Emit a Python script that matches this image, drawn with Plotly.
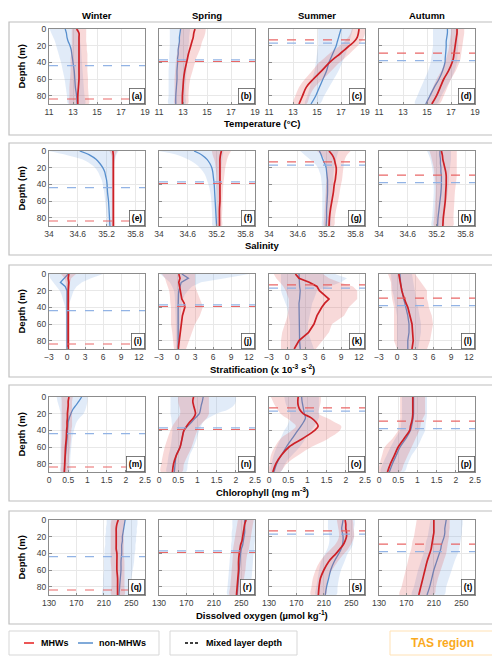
import plotly.graph_objects as go

W, H = 500, 661
OFF = 8  # the page body adds an 8 px margin around the figure

seasons = ["Winter", "Spring", "Summer", "Autumn"]
depth = [0, 5, 10, 15, 20, 25, 30, 35, 40, 50, 60, 70, 80, 90]

# mixed layer depth (m) per season
mld_mhw = [84, 39, 13, 29]
mld_non = [44, 37, 17, 38]

# ---------------- temperature (°C) ----------------
temp_mhw = [
    [13.3, 13.5, 13.5, 13.5, 13.5, 13.5, 13.5, 13.5, 13.5, 13.5, 13.5, 13.45, 13.4, 13.4],
    [14.0, 13.9, 13.85, 13.75, 13.65, 13.55, 13.45, 13.38, 13.3, 13.15, 13.05, 13.0, 12.95, 12.95],
    [18.5, 18.45, 18.35, 18.1, 17.7, 17.3, 16.9, 16.45, 16.05, 15.4, 14.7, 14.1, 13.8, 13.5],
    [17.5, 17.5, 17.45, 17.4, 17.35, 17.3, 17.25, 17.2, 17.1, 16.8, 16.4, 16.1, 15.8, 15.4],
]
temp_mhw_lo = [
    [12.9, 12.9, 12.9, 12.9, 12.9, 12.85, 12.85, 12.8, 12.8, 12.8, 12.75, 12.7, 12.7, 12.7],
    [12.8, 12.8, 12.75, 12.7, 12.6, 12.55, 12.5, 12.45, 12.4, 12.35, 12.3, 12.3, 12.3, 12.3],
    [17.9, 17.8, 17.6, 17.3, 16.9, 16.45, 16.0, 15.6, 15.2, 14.6, 14.0, 13.5, 13.2, 13.0],
    [17.0, 17.0, 16.95, 16.9, 16.85, 16.8, 16.7, 16.6, 16.5, 16.2, 15.8, 15.5, 15.2, 14.9],
]
temp_mhw_hi = [
    [14.1, 14.1, 14.1, 14.1, 14.15, 14.15, 14.2, 14.2, 14.2, 14.2, 14.25, 14.25, 14.3, 14.3],
    [14.9, 14.85, 14.75, 14.6, 14.5, 14.4, 14.25, 14.1, 14.0, 13.8, 13.6, 13.5, 13.45, 13.4],
    [19.0, 19.0, 18.9, 18.7, 18.4, 18.05, 17.7, 17.3, 16.9, 16.2, 15.5, 14.8, 14.4, 14.1],
    [18.1, 18.1, 18.05, 18.0, 17.95, 17.9, 17.85, 17.8, 17.7, 17.4, 17.0, 16.7, 16.4, 16.0],
]
temp_non = [
    [12.35, 12.45, 12.5, 12.6, 12.75, 12.85, 12.9, 12.95, 13.0, 13.1, 13.15, 13.2, 13.3, 13.35],
    [12.8, 12.75, 12.7, 12.7, 12.65, 12.6, 12.6, 12.55, 12.55, 12.5, 12.5, 12.45, 12.4, 12.4],
    [17.0, 16.9, 16.8, 16.7, 16.6, 16.45, 16.3, 16.15, 16.0, 15.8, 15.5, 15.2, 14.9, 14.5],
    [16.7, 16.7, 16.65, 16.6, 16.6, 16.58, 16.55, 16.52, 16.5, 16.3, 16.0, 15.6, 15.25, 14.9],
]
temp_non_lo = [
    [11.05, 11.2, 11.35, 11.5, 11.6, 11.7, 11.8, 11.9, 12.0, 12.15, 12.3, 12.4, 12.5, 12.6],
    [11.9, 11.9, 11.9, 11.9, 11.9, 11.88, 11.85, 11.85, 11.85, 11.8, 11.8, 11.8, 11.8, 11.8],
    [15.1, 15.1, 15.1, 15.1, 15.1, 15.05, 15.0, 14.95, 14.9, 14.8, 14.6, 14.4, 14.2, 14.0],
    [15.5, 15.5, 15.5, 15.5, 15.5, 15.45, 15.4, 15.35, 15.3, 15.1, 14.8, 14.5, 14.2, 14.0],
]
temp_non_hi = [
    [13.5, 13.55, 13.6, 13.6, 13.65, 13.68, 13.7, 13.72, 13.75, 13.8, 13.85, 13.9, 13.95, 14.0],
    [13.6, 13.55, 13.5, 13.5, 13.45, 13.42, 13.4, 13.38, 13.35, 13.3, 13.25, 13.2, 13.2, 13.2],
    [18.0, 17.9, 17.8, 17.7, 17.6, 17.5, 17.4, 17.25, 17.1, 16.8, 16.4, 16.0, 15.6, 15.2],
    [17.6, 17.6, 17.6, 17.6, 17.6, 17.58, 17.55, 17.52, 17.5, 17.3, 17.0, 16.6, 16.2, 15.8],
]

# ---------------- salinity ----------------
sal_mhw = [
    [35.33, 35.34, 35.34, 35.34, 35.34, 35.34, 35.34, 35.34, 35.34, 35.34, 35.34, 35.34, 35.34, 35.34],
    [35.3, 35.28, 35.27, 35.27, 35.27, 35.27, 35.27, 35.27, 35.27, 35.27, 35.27, 35.26, 35.26, 35.26],
    [35.25, 35.32, 35.36, 35.38, 35.4, 35.4, 35.39, 35.38, 35.36, 35.34, 35.31, 35.28, 35.26, 35.25],
    [35.3, 35.32, 35.33, 35.35, 35.37, 35.39, 35.4, 35.4, 35.4, 35.39, 35.38, 35.36, 35.34, 35.33],
]
sal_mhw_lo = [
    [35.26, 35.3, 35.31, 35.31, 35.31, 35.31, 35.31, 35.31, 35.31, 35.31, 35.31, 35.31, 35.31, 35.31],
    [35.1, 35.12, 35.15, 35.17, 35.18, 35.19, 35.2, 35.2, 35.2, 35.21, 35.21, 35.21, 35.21, 35.21],
    [35.0, 35.1, 35.15, 35.18, 35.2, 35.2, 35.2, 35.2, 35.19, 35.18, 35.17, 35.16, 35.15, 35.15],
    [35.05, 35.08, 35.1, 35.12, 35.14, 35.15, 35.16, 35.17, 35.18, 35.18, 35.17, 35.16, 35.15, 35.15],
]
sal_mhw_hi = [
    [35.42, 35.38, 35.37, 35.37, 35.37, 35.37, 35.37, 35.37, 35.37, 35.37, 35.37, 35.37, 35.37, 35.37],
    [35.5, 35.45, 35.42, 35.4, 35.38, 35.37, 35.36, 35.35, 35.34, 35.33, 35.32, 35.32, 35.31, 35.31],
    [35.7, 35.62, 35.58, 35.56, 35.55, 35.54, 35.53, 35.52, 35.5, 35.47, 35.44, 35.4, 35.37, 35.35],
    [35.62, 35.62, 35.62, 35.62, 35.62, 35.62, 35.62, 35.61, 35.6, 35.58, 35.57, 35.56, 35.55, 35.54],
]
sal_non = [
    [34.64, 34.85, 34.98, 35.06, 35.12, 35.16, 35.18, 35.2, 35.21, 35.22, 35.24, 35.25, 35.26, 35.27],
    [34.73, 34.9, 35.0, 35.06, 35.1, 35.12, 35.13, 35.14, 35.15, 35.16, 35.17, 35.18, 35.19, 35.2],
    [35.05, 35.09, 35.12, 35.16, 35.19, 35.2, 35.21, 35.22, 35.22, 35.22, 35.21, 35.2, 35.2, 35.19],
    [35.27, 35.27, 35.28, 35.28, 35.29, 35.29, 35.3, 35.3, 35.3, 35.29, 35.27, 35.25, 35.23, 35.22],
]
sal_non_lo = [
    [34.0, 34.38, 34.69, 34.85, 34.96, 35.02, 35.06, 35.1, 35.12, 35.15, 35.17, 35.19, 35.2, 35.21],
    [34.0, 34.4, 34.6, 34.75, 34.85, 34.92, 34.97, 35.0, 35.03, 35.07, 35.09, 35.1, 35.11, 35.12],
    [34.65, 34.75, 34.85, 34.95, 35.02, 35.05, 35.08, 35.09, 35.1, 35.11, 35.11, 35.11, 35.11, 35.11],
    [35.0, 35.04, 35.07, 35.09, 35.11, 35.12, 35.13, 35.14, 35.14, 35.14, 35.13, 35.12, 35.11, 35.1],
]
sal_non_hi = [
    [35.45, 35.4, 35.38, 35.36, 35.35, 35.35, 35.34, 35.34, 35.33, 35.33, 35.33, 35.33, 35.33, 35.33],
    [35.35, 35.33, 35.32, 35.31, 35.3, 35.3, 35.29, 35.29, 35.28, 35.28, 35.28, 35.28, 35.28, 35.28],
    [35.45, 35.42, 35.4, 35.38, 35.36, 35.35, 35.34, 35.34, 35.33, 35.32, 35.31, 35.3, 35.29, 35.28],
    [35.5, 35.5, 35.5, 35.49, 35.48, 35.47, 35.46, 35.46, 35.45, 35.43, 35.4, 35.38, 35.36, 35.35],
]

# ---------------- stratification (x 10^-3 s^-2) ----------------
strat_mhw = [
    [0.3, 0.2, 0.3, 0.2, 0.2, 0.2, 0.2, 0.2, 0.2, 0.2, 0.2, 0.2, 0.2, 0.2],
    [0.3, 0.5, 0.3, 0.4, 0.5, 0.6, 0.8, 1.2, 1.3, 0.9, 0.7, 0.5, 0.3, 0.2],
    [1.4, 2.0, 3.7, 5.0, 5.4, 6.2, 7.0, 6.3, 5.8, 5.0, 4.5, 3.6, 2.0, 1.2],
    [0.3, 0.4, 0.5, 0.6, 0.8, 1.0, 1.2, 1.5, 1.8, 2.2, 2.5, 2.6, 2.7, 2.5],
]
strat_mhw_lo = [
    [-1.0, -0.4, -0.2, -0.1, -0.1, -0.1, -0.1, -0.1, -0.1, -0.1, -0.1, -0.1, -0.1, -0.1],
    [-2.5, -2.0, -1.8, -1.5, -1.3, -1.2, -1.2, -1.1, -1.0, -1.0, -1.0, -0.8, -0.6, -0.5],
    [-2.2, -1.8, -1.2, -0.6, -0.2, 0.1, 0.3, 0.3, 0.3, 0.1, -0.3, -0.8, -1.0, -1.0],
    [-1.5, -1.2, -1.0, -1.0, -1.0, -0.9, -0.8, -0.6, -0.5, -0.5, -0.5, -0.5, -0.5, 0.0],
]
strat_mhw_hi = [
    [1.5, 0.7, 0.5, 0.5, 0.5, 0.5, 0.5, 0.5, 0.5, 0.5, 0.5, 0.5, 0.5, 0.5],
    [3.0, 3.0, 3.0, 3.0, 3.2, 3.5, 3.8, 4.1, 4.3, 3.8, 3.0, 2.5, 2.0, 1.5],
    [6.0, 7.0, 8.7, 11.0, 11.7, 11.7, 11.7, 11.0, 10.3, 9.5, 7.5, 7.0, 5.9, 4.8],
    [3.0, 3.5, 4.0, 4.5, 5.0, 5.0, 5.0, 5.2, 5.3, 5.8, 6.0, 5.8, 5.5, 5.0],
]
strat_non = [
    [0.2, -0.5, -1.1, -0.3, 0.0, 0.0, 0.0, 0.0, 0.0, 0.0, 0.0, 0.0, 0.0, 0.0],
    [0.8, 1.9, 0.7, 0.5, 0.3, 0.25, 0.2, 0.2, 0.2, 0.2, 0.2, 0.2, 0.2, 0.2],
    [2.0, 2.0, 2.0, 2.1, 2.2, 2.2, 2.1, 2.0, 2.0, 2.0, 2.0, 2.0, 2.1, 2.2],
    [0.5, 0.5, 0.6, 0.7, 0.8, 0.9, 1.1, 1.3, 1.5, 1.8, 2.0, 2.0, 1.8, 1.8],
]
strat_non_lo = [
    [-3.0, -2.8, -2.3, -1.7, -1.2, -0.9, -0.7, -0.5, -0.3, -0.2, -0.2, -0.2, -0.2, -0.2],
    [-2.8, -2.0, -1.2, -0.8, -0.5, -0.4, -0.3, -0.3, -0.3, -0.2, -0.2, -0.2, -0.2, -0.2],
    [-1.0, -1.0, -1.0, -1.0, -1.0, -0.8, -0.5, -0.2, 0.0, 0.3, 0.5, 0.5, 0.5, 0.5],
    [-1.0, -1.0, -0.9, -0.8, -0.8, -0.6, -0.5, -0.3, -0.2, 0.0, 0.0, 0.0, 0.0, 0.0],
]
strat_non_hi = [
    [6.0, 4.0, 2.5, 1.6, 1.1, 0.8, 0.6, 0.4, 0.3, 0.2, 0.2, 0.2, 0.2, 0.2],
    [12.0, 8.0, 4.0, 2.5, 1.8, 1.3, 1.0, 0.8, 0.7, 0.6, 0.6, 0.6, 0.5, 0.5],
    [8.0, 10.0, 9.0, 7.0, 5.0, 4.8, 4.5, 4.2, 4.0, 3.8, 3.5, 3.5, 4.0, 4.5],
    [2.5, 2.6, 2.7, 2.8, 3.0, 3.1, 3.2, 3.3, 3.5, 3.8, 4.0, 4.0, 3.8, 3.5],
]

# ---------------- chlorophyll (mg m^-3) ----------------
chl_mhw = [
    [0.52, 0.5, 0.5, 0.49, 0.48, 0.48, 0.47, 0.47, 0.46, 0.45, 0.43, 0.42, 0.41, 0.4],
    [0.9, 0.88, 0.9, 0.93, 0.95, 0.9, 0.8, 0.72, 0.65, 0.6, 0.55, 0.45, 0.38, 0.35],
    [0.76, 0.75, 0.76, 0.8, 0.89, 1.1, 1.22, 1.28, 1.19, 0.87, 0.52, 0.32, 0.18, 0.1],
    [0.88, 0.88, 0.88, 0.88, 0.88, 0.87, 0.85, 0.82, 0.8, 0.65, 0.5, 0.4, 0.3, 0.22],
]
chl_mhw_lo = [
    [0.32, 0.33, 0.33, 0.33, 0.33, 0.33, 0.33, 0.33, 0.33, 0.33, 0.32, 0.32, 0.32, 0.32],
    [0.5, 0.5, 0.52, 0.55, 0.55, 0.5, 0.42, 0.35, 0.3, 0.22, 0.15, 0.1, 0.06, 0.05],
    [0.05, 0.1, 0.15, 0.22, 0.3, 0.45, 0.6, 0.7, 0.6, 0.3, 0.15, 0.05, 0.02, 0.0],
    [0.55, 0.55, 0.55, 0.55, 0.55, 0.55, 0.53, 0.52, 0.5, 0.35, 0.15, 0.08, 0.02, 0.0],
]
chl_mhw_hi = [
    [0.62, 0.6, 0.6, 0.6, 0.6, 0.6, 0.6, 0.6, 0.58, 0.57, 0.55, 0.53, 0.51, 0.5],
    [1.3, 1.3, 1.3, 1.3, 1.3, 1.25, 1.15, 1.05, 1.0, 0.92, 0.85, 0.75, 0.65, 0.6],
    [1.35, 1.35, 1.33, 1.3, 1.3, 1.5, 1.7, 1.88, 1.85, 1.54, 1.1, 0.76, 0.46, 0.28],
    [1.2, 1.2, 1.2, 1.2, 1.2, 1.15, 1.1, 1.08, 1.05, 0.95, 0.85, 0.75, 0.65, 0.55],
]
chl_non = [
    [0.85, 0.78, 0.7, 0.62, 0.57, 0.53, 0.5, 0.49, 0.48, 0.47, 0.45, 0.43, 0.41, 0.4],
    [1.15, 1.13, 1.1, 1.08, 1.05, 0.95, 0.85, 0.75, 0.65, 0.6, 0.55, 0.45, 0.42, 0.4],
    [0.85, 0.86, 0.88, 0.9, 0.92, 0.95, 0.9, 0.83, 0.75, 0.6, 0.45, 0.32, 0.2, 0.13],
    [0.9, 0.9, 0.9, 0.9, 0.9, 0.89, 0.87, 0.85, 0.82, 0.7, 0.55, 0.45, 0.35, 0.27],
]
chl_non_lo = [
    [0.2, 0.22, 0.25, 0.28, 0.3, 0.3, 0.3, 0.3, 0.3, 0.3, 0.3, 0.3, 0.3, 0.3],
    [0.3, 0.3, 0.3, 0.3, 0.3, 0.32, 0.33, 0.34, 0.35, 0.33, 0.3, 0.25, 0.22, 0.2],
    [0.4, 0.42, 0.45, 0.5, 0.55, 0.55, 0.52, 0.47, 0.4, 0.3, 0.2, 0.12, 0.07, 0.05],
    [0.6, 0.6, 0.6, 0.6, 0.6, 0.6, 0.58, 0.57, 0.55, 0.42, 0.3, 0.2, 0.1, 0.05],
]
chl_non_hi = [
    [1.0, 1.0, 0.98, 0.95, 0.9, 0.8, 0.72, 0.68, 0.65, 0.6, 0.58, 0.56, 0.55, 0.55],
    [2.0, 2.0, 1.95, 1.8, 1.5, 1.3, 1.15, 1.1, 1.05, 0.98, 0.9, 0.8, 0.75, 0.7],
    [1.3, 1.3, 1.3, 1.3, 1.3, 1.3, 1.25, 1.18, 1.1, 0.95, 0.8, 0.6, 0.42, 0.3],
    [1.25, 1.25, 1.25, 1.25, 1.25, 1.24, 1.22, 1.21, 1.2, 1.1, 1.0, 0.85, 0.75, 0.65],
]

# ---------------- dissolved oxygen (umol kg^-1) ----------------
oxy_mhw = [
    [231, 229, 228, 228, 228, 228, 228, 228, 229, 229, 229, 230, 230, 230],
    [257, 255, 254, 253, 252, 251, 249, 248, 247, 246, 246, 245, 244, 243],
    [241, 242, 242, 243, 243, 241, 238, 233, 228, 217, 210, 205, 203, 202],
    [210, 210, 210, 210, 209, 208, 207, 206, 204, 200, 197, 194, 191, 188],
]
oxy_mhw_lo = [
    [221, 220, 220, 220, 220, 220, 220, 220, 220, 220, 221, 221, 221, 221],
    [245, 244, 243, 242, 241, 240, 239, 238, 238, 237, 236, 235, 234, 233],
    [229, 230, 231, 232, 232, 230, 226, 220, 214, 204, 198, 194, 192, 191],
    [185, 184, 183, 182, 181, 179, 178, 177, 175, 172, 169, 166, 163, 160],
]
oxy_mhw_hi = [
    [241, 240, 239, 239, 239, 239, 239, 239, 239, 240, 240, 240, 240, 240],
    [268, 267, 266, 265, 264, 263, 262, 261, 259, 257, 256, 254, 253, 252],
    [252, 253, 253, 254, 254, 252, 249, 245, 240, 230, 222, 216, 214, 213],
    [233, 233, 233, 232, 232, 231, 230, 229, 228, 224, 220, 216, 213, 210],
]
oxy_non = [
    [241, 240, 239, 238, 237, 237, 236, 236, 236, 235, 235, 234, 233, 232],
    [255, 255, 255, 255, 254, 253, 252, 250, 249, 248, 247, 246, 245, 244],
    [238, 237, 236, 237, 238, 238, 237, 235, 232, 225, 220, 217, 214, 212],
    [228, 227, 226, 226, 225, 223, 221, 220, 218, 214, 210, 207, 204, 200],
]
oxy_non_lo = [
    [214, 214, 213, 213, 212, 212, 212, 211, 211, 210, 210, 209, 209, 208],
    [237, 237, 237, 236, 236, 236, 235, 235, 234, 233, 232, 231, 230, 230],
    [216, 216, 216, 217, 218, 218, 217, 215, 212, 206, 203, 201, 199, 198],
    [205, 204, 203, 202, 201, 199, 198, 197, 195, 191, 187, 184, 181, 178],
]
oxy_non_hi = [
    [259, 259, 258, 258, 257, 257, 256, 256, 255, 254, 252, 250, 248, 247],
    [270, 270, 270, 270, 270, 270, 269, 269, 268, 267, 266, 265, 264, 263],
    [255, 255, 254, 254, 254, 253, 252, 249, 245, 240, 235, 232, 230, 228],
    [252, 252, 251, 251, 250, 249, 248, 247, 245, 240, 236, 232, 228, 225],
]

variables = [
    ("Temperature (°C)", [11, 19], [11, 13, 15, 17, 19], True,
     temp_mhw, temp_mhw_lo, temp_mhw_hi, temp_non, temp_non_lo, temp_non_hi),
    ("Salinity", [34, 36], [34, 34.6, 35.2, 35.8], True,
     sal_mhw, sal_mhw_lo, sal_mhw_hi, sal_non, sal_non_lo, sal_non_hi),
    ("Stratification (x 10<sup>-3</sup> s<sup>-2</sup>)", [-3, 13], [-3, 0, 3, 6, 9, 12], False,
     strat_mhw, strat_mhw_lo, strat_mhw_hi, strat_non, strat_non_lo, strat_non_hi),
    ("Chlorophyll (mg m<sup>-3</sup>)", [0, 2.5], [0, 0.5, 1, 1.5, 2, 2.5], True,
     chl_mhw, chl_mhw_lo, chl_mhw_hi, chl_non, chl_non_lo, chl_non_hi),
    ("Dissolved oxygen (µmol kg<sup>-1</sup>)", [130, 270], [130, 170, 210, 250], True,
     oxy_mhw, oxy_mhw_lo, oxy_mhw_hi, oxy_non, oxy_non_lo, oxy_non_hi),
]

RED = "rgb(205,32,38)"
BLUE = "rgb(86,142,205)"
RED_FILL = "rgba(225,80,80,0.22)"
BLUE_FILL = "rgba(120,165,222,0.22)"
RED_DASH = "rgba(232,95,95,0.95)"
BLUE_DASH = "rgba(140,175,228,0.95)"
FONT = "Liberation Sans, Arial, sans-serif"

# screen pixel positions
col_left = [49, 159, 269, 379]
row_top = [29, 151, 274, 397, 520]
pw, ph = 96, 75
box_rows = [(22, 135), (143, 255), (265, 377), (385, 501), (511, 624)]


def fx(p):
    return (p - OFF) / W


def fy(p):
    return 1 - (p - OFF) / H


fig = go.Figure()
layout = {}
shapes = []
annotations = []
letters = "abcdefghijklmnopqrst"

for r, (title, xr, xt, smooth, m, mlo, mhi, n, nlo, nhi) in enumerate(variables):
    shape_kind = "spline" if smooth else "linear"
    for c in range(4):
        idx = r * 4 + c + 1
        sfx = "" if idx == 1 else str(idx)
        xa, ya = "x" + sfx, "y" + sfx
        # non-MHW band and line, then MHW band and line on top
        fig.add_trace(go.Scatter(x=nlo[c] + nhi[c][::-1], y=depth + depth[::-1], xaxis=xa, yaxis=ya,
                                 fill="toself", fillcolor=BLUE_FILL, line=dict(width=0, shape=shape_kind),
                                 mode="lines", hoverinfo="skip", showlegend=False))
        fig.add_trace(go.Scatter(x=n[c], y=depth, xaxis=xa, yaxis=ya, mode="lines",
                                 line=dict(color=BLUE, width=1.3, shape=shape_kind), showlegend=False))
        fig.add_trace(go.Scatter(x=mlo[c] + mhi[c][::-1], y=depth + depth[::-1], xaxis=xa, yaxis=ya,
                                 fill="toself", fillcolor=RED_FILL, line=dict(width=0, shape=shape_kind),
                                 mode="lines", hoverinfo="skip", showlegend=False))
        fig.add_trace(go.Scatter(x=m[c], y=depth, xaxis=xa, yaxis=ya, mode="lines",
                                 line=dict(color=RED, width=1.7, shape=shape_kind), showlegend=False))

        L, T = col_left[c], row_top[r]
        axis_common = dict(showgrid=True, gridcolor="rgb(232,232,232)", gridwidth=0.6,
                           showline=True, linecolor="rgb(140,140,140)", linewidth=1, mirror=True,
                           ticks="inside", ticklen=2.5, tickcolor="rgb(140,140,140)", automargin=False,
                           zeroline=False, tickfont=dict(size=8.5, color="rgb(60,60,60)", family=FONT))
        layout["xaxis" + sfx] = dict(domain=[fx(L), fx(L + pw)], anchor=ya, range=xr,
                                     tickvals=xt, **axis_common)
        layout["yaxis" + sfx] = dict(domain=[fy(T + ph), fy(T)], anchor=xa, range=[90, 0],
                                     tickvals=[0, 20, 40, 60, 80], showticklabels=(c == 0),
                                     **axis_common)

        # mixed layer depths
        for val, col in ((mld_non[c], BLUE_DASH), (mld_mhw[c], RED_DASH)):
            shapes.append(dict(type="line", xref=xa + " domain", yref=ya, x0=0, x1=1, y0=val, y1=val,
                               line=dict(color=col, width=1.1, dash="dash"), layer="above"))

        annotations.append(dict(text=f"<b>({letters[idx - 1]})</b>", xref=xa + " domain", yref=ya + " domain",
                                x=1, y=0, xanchor="right", yanchor="bottom", showarrow=False,
                                font=dict(size=8.5, color="black", family=FONT), bgcolor="white",
                                bordercolor="rgb(90,90,90)", borderwidth=0.8, borderpad=2))

    # row box, depth label and x title
    bt, bb = box_rows[r]
    shapes.append(dict(type="rect", xref="paper", yref="paper", x0=fx(9), x1=fx(495), y0=fy(bb), y1=fy(bt),
                       line=dict(color="rgb(190,190,190)", width=1.2)))
    annotations.append(dict(text="<b>Depth (m)</b>", xref="paper", yref="paper", x=fx(21), xanchor="center",
                            y=fy(row_top[r] + ph / 2), yanchor="middle", textangle=-90, showarrow=False,
                            font=dict(size=9.5, color="black", family=FONT)))
    annotations.append(dict(text=f"<b>{title}</b>", xref="paper", yref="paper", x=fx(262), xanchor="center",
                            y=fy(row_top[r] + ph + 20), showarrow=False, yanchor="middle",
                            font=dict(size=9.5, color="black", family=FONT)))

# season titles sit right at the top edge of the figure
for c, s in enumerate(seasons):
    annotations.append(dict(text=f"<b>{s}</b>", xref="paper", yref="paper", x=fx(col_left[c] + pw / 2),
                            xanchor="center", y=1, yanchor="top", showarrow=False,
                            font=dict(size=9.5, color="black", family=FONT)))

# legend boxes
ly0, ly1 = 631, 655
lyc = (ly0 + ly1) / 2
for x0, x1, col in ((9, 159, "rgb(215,215,215)"), (170, 297, "rgb(215,215,215)"), (390, 493, "rgb(255,225,180)")):
    shapes.append(dict(type="rect", xref="paper", yref="paper", x0=fx(x0), x1=fx(x1), y0=fy(ly1), y1=fy(ly0),
                       line=dict(color=col, width=1)))
shapes.append(dict(type="line", xref="paper", yref="paper", x0=fx(24), x1=fx(34), y0=fy(lyc), y1=fy(lyc),
                   line=dict(color="rgb(230,30,30)", width=1.5)))
shapes.append(dict(type="line", xref="paper", yref="paper", x0=fx(78), x1=fx(93), y0=fy(lyc), y1=fy(lyc),
                   line=dict(color=BLUE, width=1.5)))
shapes.append(dict(type="line", xref="paper", yref="paper", x0=fx(185), x1=fx(199), y0=fy(lyc), y1=fy(lyc),
                   line=dict(color="black", width=1.3, dash="3px,2px")))
for txt, xpos in (("MHWs", 39), ("non-MHWs", 97), ("Mixed layer depth", 204)):
    annotations.append(dict(text=f"<b>{txt}</b>", xref="paper", yref="paper", x=fx(xpos), y=fy(lyc),
                            xanchor="left", yanchor="middle", showarrow=False,
                            font=dict(size=9, color="black", family=FONT)))
annotations.append(dict(text="<b>TAS region</b>", xref="paper", yref="paper", x=fx(442), y=fy(lyc),
                        xanchor="center", yanchor="middle", showarrow=False,
                        font=dict(size=12, color="rgb(250,170,30)", family=FONT)))

fig.update_layout(width=W, height=H, margin=dict(l=0, r=0, t=0, b=0, pad=0), paper_bgcolor="white",
                  plot_bgcolor="white", showlegend=False, shapes=shapes, annotations=annotations,
                  font=dict(family=FONT), **layout)
fig.write_html("out.html")
